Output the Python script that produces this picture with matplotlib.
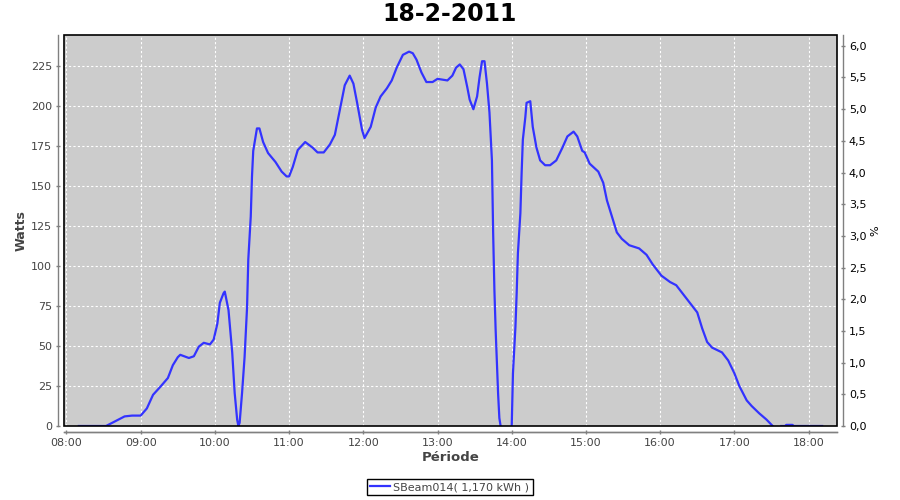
#!/usr/bin/python3

import numpy as np
import pandas as pd
import matplotlib
matplotlib.use('Agg')
import matplotlib.pyplot as plt
import matplotlib.dates as mdates
from matplotlib.patches import Rectangle
from matplotlib.ticker import FuncFormatter, MultipleLocator

# Day and series label
day = '2011-02-18'
title = '18-2-2011'
series_name = 'SBeam014( 1,170 kWh )'

# Sample times (HH:MM) and power readings in Watts, None = no reading
times = [
    '08:10', '08:32', '08:37', '08:42', '08:47', '08:53', '09:00', '09:05',
    '09:10', '09:16', '09:22', '09:26', '09:30', '09:32', '09:39', '09:43',
    '09:47', '09:51', '09:56', '09:59', '10:02', '10:04', '10:07', '10:08',
    '10:11', '10:14', '10:16', '10:18', '10:19', '10:20', '10:22', '10:24',
    '10:26', '10:27', '10:29', '10:30', '10:31', '10:34', '10:36', '10:39',
    '10:43', '10:49', '10:54', '10:58', '11:00', '11:03', '11:07', '11:13',
    '11:19', '11:23', '11:28', '11:33', '11:37', '11:41', '11:45', '11:49',
    '11:52', '11:55', '11:59', '12:01', '12:06', '12:10', '12:14', '12:19',
    '12:23', '12:27', '12:32', '12:37', '12:40', '12:43', '12:47', '12:51',
    '12:56', '13:00', '13:08', '13:12', '13:15', '13:18', '13:21', '13:24',
    '13:26', '13:29', '13:32', '13:34', '13:36', '13:38', '13:40', '13:42',
    '13:44', '13:45', '13:46', '13:47', '13:48', '13:49', '13:50', '13:51',
    '13:55', '14:00', '14:01', '14:03', '14:04', '14:05', '14:07', '14:08',
    '14:09', '14:11', '14:12', '14:15', '14:17', '14:20', '14:23', '14:27',
    '14:31', '14:36', '14:41', '14:45', '14:50', '14:53', '14:57', '14:59',
    '15:03', '15:10', '15:14', '15:17', '15:21', '15:25', '15:29', '15:35',
    '15:43', '15:49', '15:54', '16:01', '16:08', '16:13', '16:18', '16:24',
    '16:30', '16:34', '16:38', '16:42', '16:50', '16:55', '17:00', '17:04',
    '17:10', '17:14', '17:20', '17:26', '17:31', '17:35', '17:38', '17:41',
    '17:42', '17:47', '17:48', '18:11',
]
watts = [
    0, 0, 2, 4, 6, 6.5, 6.5, 11,
    19.5, 24.6, 30, 38, 43, 44.5, 42.5, 43.6,
    49.6, 52, 51, 54, 64, 77, 83, 84,
    72.5, 46, 20.6, 4, 0, 2, 21, 43,
    74, 104, 131, 156, 172, 186, 186, 177.5,
    170.6, 165, 159, 156, 156, 162, 172.5, 177.5,
    174, 171, 171, 176, 182, 197.5, 213, 219,
    214, 202, 185, 180, 187, 199, 206, 211,
    216, 224, 232, 234, 233, 229, 221, 215,
    215, 217, 216, 219, 224, 226, 223, 212,
    204, 198, 206, 218, 228, 228, 214, 196,
    166, 120, 85, 60, 40, 20, 5, 0,
    None, 0, 33, 62, 83, 108, 133, 158,
    179, 193, 202, 203, 187, 174, 166, 163,
    163, 166, 174, 181, 184, 181, 172, 171,
    164, 159, 152, 141, 131, 121, 117, 113,
    111, 107, 101, 94, 90, 88, 83, 77,
    71, 61, 52.5, 49, 46, 41, 33, 25,
    16, 12.5, 8, 4, 0, None, 0, 0,
    0.7, 0.7, 0, 0,
]

# Axis ranges and tick steps
watts_max = 244.4
pct_max = 6.17
watts_step = 25
pct_step = 0.5
x_start = '07:58'
x_end = '18:23'

BG = '#cccccc'
LINE = '#3333ff'
AXIS_GREY = '#808080'
TEXT_GREY = '#444444'


def build_series():
    """
        Turn the time strings into datetimes and the values into floats.

        :return: A tuple of the x values and y values.
        :rtype: tuple
    """
    x = pd.to_datetime([f"{day} {t}" for t in times])
    y = np.array([np.nan if v is None else v for v in watts], dtype=float)
    return x, y


def style_axis(ax, side):
    """
        Give an axis the offset grey axis line look.

        :param ax: The axes to style.
        :param side: 'left' or 'right' for the y axis side.
        :type ax: Axes
        :type side: str
    """
    for name, spine in ax.spines.items():
        if name in (side, 'bottom'):
            spine.set_position(('outward', 4))
            spine.set_color(AXIS_GREY)
            spine.set_linewidth(1)
        else:
            spine.set_visible(False)
    ax.tick_params(axis='both', direction='inout', length=3, width=1,
                   color=AXIS_GREY, labelsize=8, pad=3)


def main():
    x, y = build_series()

    fig = plt.figure(figsize=(9, 5), dpi=100)
    ax = fig.add_axes([64 / 900, 1 - 426 / 500, (837 - 64) / 900, (426 - 35) / 500])
    ax.set_facecolor(BG)

    ax.plot(x, y, color=LINE, linewidth=1.6, zorder=3)

    ax.set_ylim(0, watts_max)
    ax.yaxis.set_major_locator(MultipleLocator(watts_step))
    ax.set_xlim(pd.Timestamp(f"{day} {x_start}"), pd.Timestamp(f"{day} {x_end}"))
    ax.xaxis.set_major_locator(mdates.HourLocator())
    ax.xaxis.set_major_formatter(mdates.DateFormatter('%H:%M'))

    ax.grid(True, color='white', linestyle=(0, (2, 2)), linewidth=0.8)
    ax.set_axisbelow(True)
    style_axis(ax, 'left')
    ax.tick_params(labelcolor=TEXT_GREY)

    # Black frame round the plot area
    ax.add_patch(Rectangle((0, 0), 1, 1, transform=ax.transAxes, fill=False,
                           edgecolor='black', linewidth=1.2, zorder=5, clip_on=False))

    ax.set_ylabel('Watts', fontsize=9, fontweight='bold', color=TEXT_GREY)
    ax.yaxis.set_label_coords(-0.047, 0.5)
    ax.set_xlabel('Période', fontsize=9.5, fontweight='bold', color=TEXT_GREY, labelpad=2)

    # Right hand percentage axis
    ax2 = ax.twinx()
    ax2.set_ylim(0, pct_max)
    ax2.yaxis.set_major_locator(MultipleLocator(pct_step))
    ax2.yaxis.set_major_formatter(FuncFormatter(lambda v, _: f"{v:.1f}".replace('.', ',')))
    style_axis(ax2, 'right')
    ax2.tick_params(labelcolor='black')
    ax2.set_ylabel('%', fontsize=8, rotation=90, labelpad=3)

    fig.suptitle(title, x=0.5, y=1 - 14 / 500, va='center', fontsize=17, fontweight='bold')

    leg = fig.legend(handles=ax.get_lines(), labels=[series_name], loc='center',
                     bbox_to_anchor=(449.5 / 900, 1 - 487 / 500), fontsize=8,
                     fancybox=False, edgecolor='black', framealpha=1,
                     handlelength=1.8, handletextpad=0.3, borderpad=0.3,
                     borderaxespad=0)
    leg.get_frame().set_linewidth(1)
    for t in leg.get_texts():
        t.set_color(TEXT_GREY)

    fig.savefig('out.png', dpi=100)


if __name__ == '__main__':
    main()
